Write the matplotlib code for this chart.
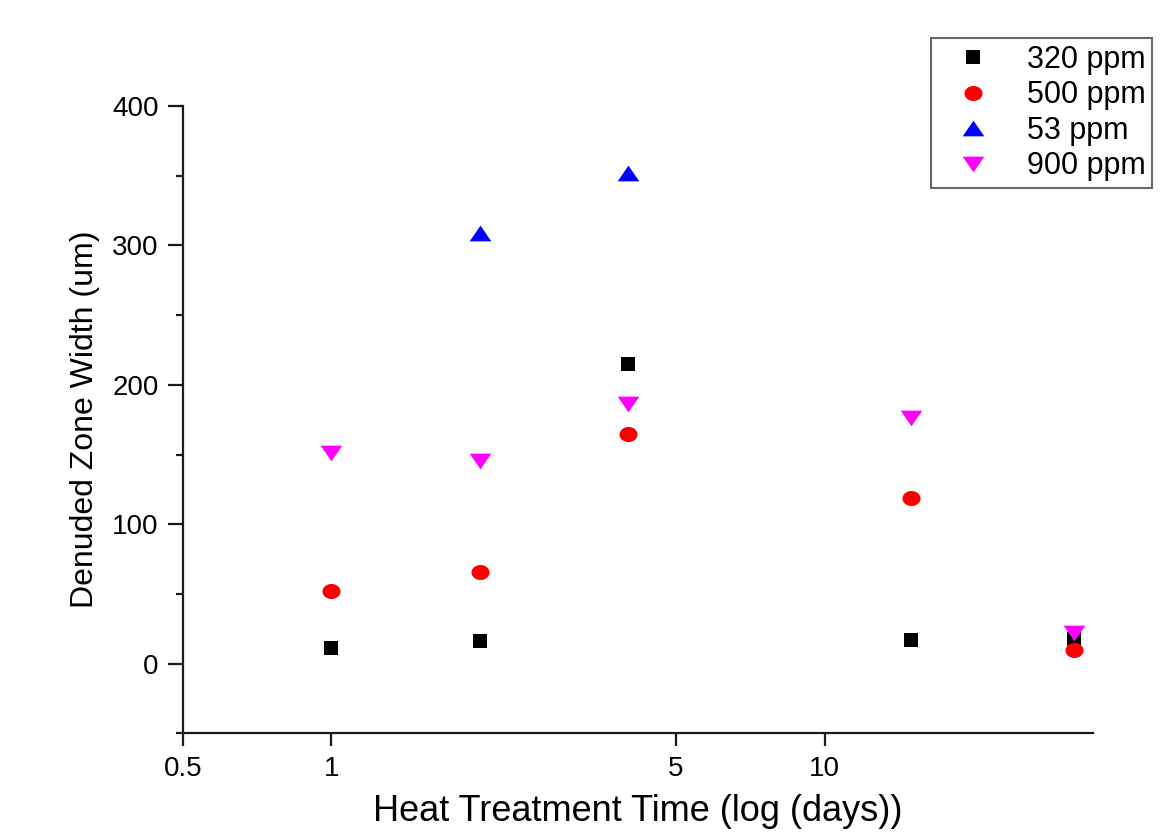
import numpy as np
import matplotlib
matplotlib.use("Agg")
import matplotlib.pyplot as plt
from matplotlib.path import Path
from matplotlib.ticker import FixedLocator, MultipleLocator, NullLocator, FixedFormatter

plt.rcParams["font.family"] = ["Liberation Sans", "DejaVu Sans"]

# datos (dias de tratamiento y ancho de zona denudada, um)
dias = [1, 2, 4, 15, 32]
dz_320 = [11, 16, 215, 17, 17.5]
dz_500 = [52, 66, 165, 119, 10]
dias_53 = [2, 4]
dz_53 = [309, 352]
dz_900 = [151, 145, 186, 176, 22]

xticks = [0.5, 1, 5, 10]
xtick_labels = ["0.5", "1", "5", "10"]


# marcadores algo estirados en horizontal, como en la imagen original
def marcador(verts):
    verts = list(verts) + [verts[0]]
    codes = [Path.MOVETO] + [Path.LINETO] * (len(verts) - 2) + [Path.CLOSEPOLY]
    return Path(verts, codes)


t = np.linspace(0, 2 * np.pi, 48, endpoint=False)
m_circ = marcador([(1.2 * np.cos(a), np.sin(a)) for a in t])
m_sq = marcador([(-1.13, -1), (1.13, -1), (1.13, 1), (-1.13, 1)])
m_up = marcador([(-1.38, -1), (1.38, -1), (0, 1)])
m_dn = marcador([(-1.38, 1), (1.38, 1), (0, -1)])

fig = plt.figure(figsize=(11.61, 8.38), dpi=100)
ax = fig.add_axes([0.1576, 0.1249, 0.9413 - 0.1576, 0.8735 - 0.1249])

kw = dict(linestyle="none", markeredgewidth=0)
ax.plot(dias, dz_320, marker=m_sq, markersize=10.8, color="black", label="320 ppm", **kw)
ax.plot(dias, dz_500, marker=m_circ, markersize=13, color="#ff0000", label="500 ppm", **kw)
ax.plot(dias_53, dz_53, marker=m_up, markersize=15.6, color="#0000ff", label="53 ppm", **kw)
ax.plot(dias, dz_900, marker=m_dn, markersize=15.6, color="#ff00ff", label="900 ppm", **kw)

ax.set_xscale("log")
ax.set_xlim(0.5, 35)
ax.set_ylim(-50, 400)
ax.xaxis.set_major_locator(FixedLocator(xticks))
ax.xaxis.set_major_formatter(FixedFormatter(xtick_labels))
ax.xaxis.set_minor_locator(NullLocator())
ax.yaxis.set_major_locator(MultipleLocator(100))
ax.yaxis.set_minor_locator(MultipleLocator(50))

for s in ["top", "right"]:
    ax.spines[s].set_visible(False)
for s in ["left", "bottom"]:
    ax.spines[s].set_linewidth(1.6)
    ax.spines[s].set_color("#1a1a1a")

ax.tick_params(axis="both", which="major", labelsize=20, width=1.6, color="#1a1a1a")
ax.tick_params(axis="y", which="major", length=10.5, pad=7)
ax.tick_params(axis="y", which="minor", length=5, width=1.6, color="#1a1a1a")
ax.tick_params(axis="x", which="major", length=9, pad=7)

ax.set_xlabel("Heat Treatment Time (log (days))", fontsize=26, labelpad=9)
ax.set_ylabel("Denuded Zone Width (um)", fontsize=23, labelpad=9)

leg = fig.legend(loc="upper right", bbox_to_anchor=(1152 / 1161, 1 - 38 / 838),
                 fontsize=22, frameon=True, fancybox=False, numpoints=1,
                 handlelength=2.3, handletextpad=0.6, borderpad=0.22,
                 labelspacing=0.18, borderaxespad=0)
leg.get_frame().set_edgecolor("#444444")
leg.get_frame().set_linewidth(1.5)

fig.savefig("out.png", dpi=100)
